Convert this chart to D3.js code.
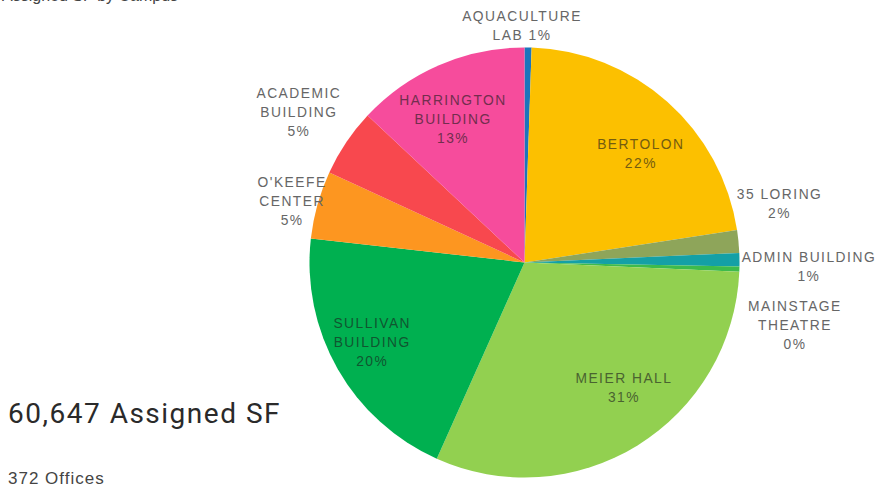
<!DOCTYPE html>
<html>
<head>
<meta charset="utf-8">
<script src="https://cdn.jsdelivr.net/npm/d3@7"></script>
<style>
  body { margin: 0; background: #fff; }
  svg { display: block; font-family: "Liberation Sans", Arial, sans-serif; }
</style>
</head>
<body>
<div id="chart"></div>
<script>
// chart data (SF per building, clockwise from 12 o'clock)
var buildings = ["AQUACULTURE\nLAB", "BERTOLON", "35 LORING", "ADMIN BUILDING", "MAINSTAGE\nTHEATRE",
                 "MEIER HALL", "SULLIVAN\nBUILDING", "O'KEEFE\nCENTER", "ACADEMIC\nBUILDING", "HARRINGTON\nBUILDING"];
var assignedSF = [320, 13380, 1030, 610, 240, 18800, 12190, 3090, 3090, 7897];
var totalOffices = 372;
var chartTitle = "Assigned SF by Campus";

var sliceColors = ["#1c75bc", "#fcc000", "#8ea55a", "#14a0a6", "#3dbb4c",
                   "#92d050", "#00b050", "#fd9620", "#f8484e", "#f64c9c"];

// label placement: [angle in degrees from 12 o'clock, radius factor], inside = drawn on the slice
var labelLayout = {
  "AQUACULTURE\nLAB":      { pos: [359.4, 1.098], inside: false, pctSameLine: true },
  "BERTOLON":              { pos: [47, 0.74],     inside: true },
  "35 LORING":             { pos: [77.1, 1.217],  inside: false },
  "ADMIN BUILDING":        { pos: [91, 1.323],    inside: false },
  "MAINSTAGE\nTHEATRE":    { pos: [103.2, 1.292], inside: false },
  "MEIER HALL":            { pos: [141.5, 0.743], inside: true },
  "SULLIVAN\nBUILDING":    { pos: [242.3, 0.80],  inside: true },
  "O'KEEFE\nCENTER":       { pos: [284.6, 1.117], inside: false },
  "ACADEMIC\nBUILDING":    { pos: [303.6, 1.26],  inside: false },
  "HARRINGTON\nBUILDING":  { pos: [333.5, 0.745], inside: true }
};

var width = 878;
var height = 487;
var cx = 524.5;
var cy = 262.5;
var radius = 215;
var lineStep = 19;

var total = d3.sum(assignedSF);
var rows = buildings.map(function(b, i) {
  return { name: b, sf: assignedSF[i], color: sliceColors[i] };
});

var svg = d3.select('#chart')
  .append('svg')
  .attr('width', width)
  .attr('height', height);

// title is cut by the top edge in the picture, only its lower part shows
svg.append('text')
  .attr('x', 2)
  .attr('y', 0.5)
  .attr('font-size', 16)
  .attr('fill', '#444')
  .text(chartTitle);

var pie = d3.pie().sort(null).value(d => d.sf);
var arc = d3.arc().innerRadius(0).outerRadius(radius);
var arcs = pie(rows);

var g = svg.append('g')
  .attr('transform', 'translate(' + cx + ',' + cy + ')');

g.selectAll('path.slice')
  .data(arcs)
  .enter().append('path')
    .attr('class', 'slice')
    .attr('d', arc)
    .attr('fill', d => d.data.color);

// labels
arcs.forEach(function(a) {
  var lay = labelLayout[a.data.name];
  var pct = Math.round(a.data.sf / total * 100) + '%';
  var lines = a.data.name.split('\n');
  if (lay.pctSameLine) {
    lines[lines.length - 1] += '  ' + pct;
  } else {
    lines.push(pct);
  }
  var p = d3.pointRadial(lay.pos[0] * Math.PI / 180, lay.pos[1] * radius);
  var fill = lay.inside ? d3.interpolateRgb(a.data.color, '#1a1a1a')(0.6) : '#666';
  var t = g.append('text')
    .attr('text-anchor', 'middle')
    .attr('font-size', 13.8)
    .attr('fill', fill)
    .style('letter-spacing', '1.5px');
  lines.forEach(function(ln, i) {
    t.append('tspan')
      .attr('x', p[0])
      .attr('y', p[1] + (i - (lines.length - 1) / 2) * lineStep)
      .attr('dominant-baseline', 'central')
      .text(ln);
  });
});

// totals block, bottom left
svg.append('text')
  .attr('x', 8)
  .attr('y', 423)
  .attr('font-size', 28)
  .attr('font-family', 'Roboto, "Liberation Sans", sans-serif')
  .attr('fill', '#2a2a2a')
  .style('letter-spacing', '1.5px')
  .text(d3.format(',')(total) + ' Assigned SF');

svg.append('text')
  .attr('x', 8)
  .attr('y', 484)
  .attr('font-size', 17)
  .attr('fill', '#444')
  .style('letter-spacing', '1px')
  .text(totalOffices + ' Offices');
</script>
</body>
</html>
